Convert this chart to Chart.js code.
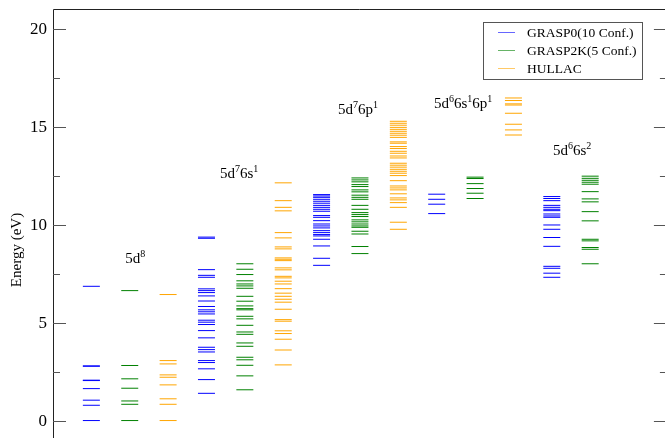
<!DOCTYPE html>
<html>
<head>
<meta charset="utf-8">
<script src="https://cdn.jsdelivr.net/npm/chart.js@4.4.0/dist/chart.umd.min.js"></script>
<style>
  html, body { margin: 0; padding: 0; background: #fff; overflow: hidden; }
  canvas { display: block; }
</style>
</head>
<body>
<canvas id="c" width="665" height="438"></canvas>
<script>
// Configurations (column groups) and calculation methods
const configurations = ['5d8', '5d76s1', '5d76p1', '5d66s16p1', '5d66s2'];
const methods = ['GRASP0(10 Conf.)', 'GRASP2K(5 Conf.)', 'HULLAC'];
const methodColors = ['#0000ff', '#008000', '#ffa500'];

// Energy axis
const yTitle = 'Energy (eV)';
const yTickValues = [0, 5, 10, 15, 20];
const yMinorTickValues = [2.5, 7.5, 12.5, 17.5];

// Configuration labels as [normal, superscript, normal, superscript, ...]
const configLabelParts = [
  ['5d', '8'],
  ['5d', '7', '6s', '1'],
  ['5d', '7', '6p', '1'],
  ['5d', '6', '6s', '1', '6p', '1'],
  ['5d', '6', '6s', '2']
];
// Label anchor: x in column units, y = baseline energy (eV)
const configLabelX = [1.88, 4.35, 7.43, 9.93, 13.03];
const configLabelY = [8.06, 12.4, 15.66, 15.97, 13.57];

// Energy levels (eV) — 5d8
const grasp0_5d8  = [0, 0.78, 1.04, 1.63, 2.04, 2.06, 2.77, 2.79, 6.85];
const grasp2k_5d8 = [0, 0.83, 1.0, 1.65, 2.13, 2.81, 6.63];
const hullac_5d8  = [0, 0.83, 1.11, 1.82, 2.21, 2.33, 2.89, 3.06, 6.43];

// 5d7 6s1
const grasp0_5d76s1 = [1.39, 2.09, 2.64, 2.96, 3.06, 3.5, 3.62, 3.74, 4.22, 4.59,
  4.9, 5.02, 5.12, 5.44, 5.55, 5.65, 5.82, 6.1, 6.36, 6.53, 6.63, 6.72,
  7.31, 7.41, 7.7, 9.3, 9.36];
const grasp2k_5d76s1 = [1.57, 2.28, 2.82, 3.1, 3.23, 3.79, 3.96, 4.4, 4.52, 4.86,
  5.19, 5.32, 5.65, 5.71, 5.85, 6.09, 6.34, 6.75, 6.87, 6.97, 7.13, 7.45,
  7.72, 8.0];
const hullac_5d76s1 = [2.84, 3.6, 4.15, 4.44, 4.58, 5.07, 5.15, 5.68, 6.04, 6.19,
  6.34, 6.5, 6.73, 6.97, 7.11, 7.28, 7.36, 7.69, 7.79, 8.16, 8.23, 8.3,
  8.76, 8.86, 9.32, 9.59, 10.7, 10.88, 11.22, 12.13];

// 5d7 6p1
const grasp0_5d76p1 = [7.92, 8.28, 8.91, 9.25, 9.42, 9.49, 9.59, 9.69, 9.83, 9.93,
  10.03, 10.2, 10.37, 10.46, 10.68, 10.78, 10.88, 10.98, 11.09, 11.19,
  11.29, 11.39, 11.46, 11.53];
const grasp2k_5d76p1 = [8.52, 8.88, 9.52, 9.66, 9.86, 9.93, 10.03, 10.14, 10.24,
  10.41, 10.51, 10.61, 10.78, 10.98, 11.29, 11.39, 11.5, 11.67, 11.77,
  11.94, 12.04, 12.18, 12.28, 12.38];
const hullac_5d76p1 = [9.76, 10.12, 10.88, 11.12, 11.26, 11.36, 11.57, 11.77, 11.87,
  11.97, 12.24, 12.5, 12.62, 12.72, 12.82, 12.93, 13.03, 13.13, 13.4, 13.5,
  13.64, 13.74, 13.88, 13.98, 14.15, 14.22, 14.45, 14.56, 14.66, 14.76,
  14.86, 14.96, 15.07, 15.17, 15.27];

// 5d6 6s1 6p1
const grasp0_5d66s16p1  = [10.56, 11.04, 11.29, 11.55];
const grasp2k_5d66s16p1 = [11.33, 11.6, 11.84, 12.09, 12.35, 12.42];
const hullac_5d66s16p1  = [14.57, 14.83, 15.12, 15.68, 16.1, 16.16, 16.33, 16.46];

// 5d6 6s2
const grasp0_5d66s2 = [7.31, 7.52, 7.77, 7.87, 8.89, 9.34, 9.76, 9.98, 10.37, 10.44,
  10.54, 10.71, 10.78, 10.88, 10.98, 11.22, 11.33, 11.43];
const grasp2k_5d66s2 = [8.0, 8.74, 8.83, 9.17, 9.25, 10.19, 10.66, 11.16, 11.31,
  11.68, 12.06, 12.16, 12.26, 12.36, 12.47];

const levelsByMethod = [
  [grasp0_5d8, grasp0_5d76s1, grasp0_5d76p1, grasp0_5d66s16p1, grasp0_5d66s2],
  [grasp2k_5d8, grasp2k_5d76s1, grasp2k_5d76p1, grasp2k_5d66s16p1, grasp2k_5d66s2],
  [hullac_5d8, hullac_5d76s1, hullac_5d76p1, hullac_5d66s16p1, null]
];

// Column position of each (configuration, method) pair: three columns per configuration
const columnOf = (ci, mi) => 1 + 3 * ci + mi;

const datasets = methods.map((label, mi) => {
  const pts = [];
  levelsByMethod[mi].forEach((levels, ci) => {
    if (!levels) return;
    levels.forEach(e => pts.push({ x: columnOf(ci, mi), y: e }));
  });
  return {
    label,
    data: pts,
    showLine: false,
    pointStyle: 'line',
    pointRadius: 8.5,
    pointHoverRadius: 8.5,
    pointBorderWidth: 1,
    borderColor: methodColors[mi],
    backgroundColor: methodColors[mi]
  };
});

const SERIF = '"Liberation Serif", "DejaVu Serif", serif';

// Axis frame, inward ticks, tick labels, axis title, configuration labels, legend
const decorations = {
  id: 'decorations',
  afterDraw(chart) {
    const { ctx, chartArea: a, scales } = chart;
    const ys = scales.y, xs = scales.x;
    ctx.save();
    // frame (plot box continues past the lower and right canvas edges)
    ctx.strokeStyle = '#222';
    ctx.lineWidth = 1;
    const fl = Math.round(a.left) + 0.5, ft = Math.round(a.top) + 0.5;
    ctx.beginPath();
    ctx.moveTo(fl, a.bottom + 2); ctx.lineTo(fl, ft); ctx.lineTo(a.right + 2, ft);
    ctx.stroke();
    // ticks on both sides, pointing inward
    ctx.strokeStyle = '#555';
    const rightEdge = xs.getPixelForValue(16);
    const tick = (v, len) => {
      const y = Math.round(ys.getPixelForValue(v)) + 0.5;
      ctx.beginPath();
      ctx.moveTo(a.left, y); ctx.lineTo(a.left + len, y);
      ctx.moveTo(rightEdge, y); ctx.lineTo(rightEdge - len, y);
      ctx.stroke();
    };
    yTickValues.forEach(v => tick(v, 13));
    yMinorTickValues.forEach(v => tick(v, 7));
    // tick labels
    ctx.fillStyle = '#000';
    ctx.font = '17px ' + SERIF;
    ctx.textAlign = 'right';
    ctx.textBaseline = 'middle';
    yTickValues.forEach(v => ctx.fillText(String(v), a.left - 6, ys.getPixelForValue(v) + 1));
    // axis title
    ctx.save();
    ctx.translate(17.5, 250);
    ctx.rotate(-Math.PI / 2);
    ctx.textAlign = 'center';
    ctx.font = '15px ' + SERIF;
    ctx.fillText(yTitle, 0, 0);
    ctx.restore();
    // configuration labels with superscripts
    ctx.textBaseline = 'alphabetic';
    ctx.textAlign = 'left';
    configLabelParts.forEach((parts, i) => {
      let x = xs.getPixelForValue(configLabelX[i]);
      const y = ys.getPixelForValue(configLabelY[i]);
      parts.forEach((t, k) => {
        const sup = k % 2 === 1;
        ctx.font = (sup ? '10px ' : '15px ') + SERIF;
        ctx.fillText(t, x, sup ? y - 6 : y);
        x += ctx.measureText(t).width;
      });
    });
    // legend
    const lx = 483.5, ly = 22.5, lw = 159, lh = 57;
    ctx.fillStyle = '#fff';
    ctx.fillRect(lx, ly, lw, lh);
    ctx.strokeStyle = '#555';
    ctx.strokeRect(lx, ly, lw, lh);
    ctx.font = '13.5px ' + SERIF;
    ctx.textBaseline = 'middle';
    chart.data.datasets.forEach((ds, i) => {
      const ry = 32.5 + i * 18;
      ctx.strokeStyle = ds.borderColor;
      ctx.globalAlpha = 0.6;
      ctx.beginPath();
      ctx.moveTo(498, ry); ctx.lineTo(515, ry);
      ctx.stroke();
      ctx.globalAlpha = 1;
      ctx.fillStyle = '#000';
      ctx.fillText(ds.label, 527, ry + 1);
    });
    ctx.restore();
  }
};

new Chart(document.getElementById('c'), {
  type: 'scatter',
  data: { datasets },
  plugins: [decorations],
  options: {
    responsive: false,
    devicePixelRatio: 1,
    animation: false,
    events: [],
    layout: { autoPadding: false, padding: { top: 9, right: 0, bottom: 0, left: 53 } },
    plugins: { legend: { display: false }, tooltip: { enabled: false } },
    scales: {
      // visible window of the plot box; columns sit at 1..14
      x: { type: 'linear', min: 0, max: 15.95, display: false },
      y: { type: 'linear', min: -0.89, max: 21, display: false }
    }
  }
});
</script>
</body>
</html>
